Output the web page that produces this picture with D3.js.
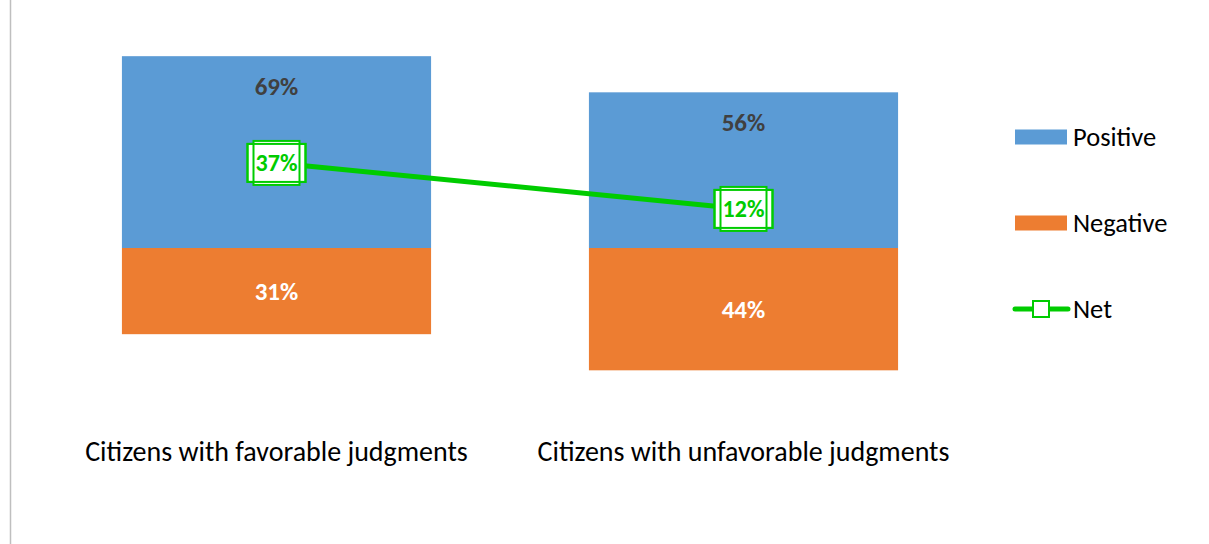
<!DOCTYPE html>
<html><head><meta charset="utf-8">
<script src="https://cdn.jsdelivr.net/npm/d3@7"></script>
<style>body{margin:0;background:#fff}svg{display:block}</style>
</head><body>
<svg id="c" width="1209" height="544"></svg>
<script>
const categories = ["Citizens with favorable judgments", "Citizens with unfavorable judgments"];
const positive = [69, 56];
const negative = [31, 44];
const net = [37, 12];
const seriesNames = ["Positive", "Negative", "Net"];

const svg = d3.select("#c");
const font = "Calibri, Carlito, 'Open Sans', 'Liberation Sans', sans-serif";
const blue = "#5b9bd5", orange = "#ed7d31", green = "#00cc00";

svg.append("line").attr("x1",10.5).attr("x2",10.5).attr("y1",0).attr("y2",544)
  .attr("stroke","#bfbfbf").attr("stroke-width",1.5);

const x = d3.scaleBand().domain(categories).range([43, 977]).paddingInner(0.338).paddingOuter(0.169);
const y = d3.scaleLinear().domain([-60, 80]).range([248 + 60*2.78, 248 - 80*2.78]);
const yNet = d3.scaleLinear().domain([-100, 100]).range([231 + 184, 231 - 184]);

const g = svg.append("g");
g.selectAll("rect.pos").data(categories).join("rect").attr("class","pos")
  .attr("x", d => x(d)).attr("width", x.bandwidth())
  .attr("y", (d,i) => y(positive[i])).attr("height", (d,i) => y(0) - y(positive[i]))
  .attr("fill", blue);
g.selectAll("rect.neg").data(categories).join("rect").attr("class","neg")
  .attr("x", d => x(d)).attr("width", x.bandwidth())
  .attr("y", y(0)).attr("height", (d,i) => y(-negative[i]) - y(0))
  .attr("fill", orange);

g.selectAll("text.pl").data(categories).join("text").attr("class","pl")
  .attr("x", d => x(d) + x.bandwidth()/2).attr("y", (d,i) => y(positive[i]) + 30)
  .attr("dy","0.35em").attr("text-anchor","middle").attr("font-family",font)
  .attr("font-weight","bold").attr("font-size",25).attr("fill","#404040")
  .text((d,i) => positive[i] + "%");
g.selectAll("text.nl").data(categories).join("text").attr("class","nl")
  .attr("x", d => x(d) + x.bandwidth()/2).attr("y", (d,i) => (y(0) + y(-negative[i]))/2)
  .attr("dy","0.35em").attr("text-anchor","middle").attr("font-family",font)
  .attr("font-weight","bold").attr("font-size",25).attr("fill","#fff")
  .text((d,i) => negative[i] + "%");

const line = d3.line().x((d,i) => x(categories[i]) + x.bandwidth()/2).y(d => yNet(d));
g.append("path").datum(net).attr("d", line).attr("fill","none")
  .attr("stroke", green).attr("stroke-width", 5);

const pts = g.selectAll("g.pt").data(net).join("g").attr("class","pt")
  .attr("transform", (d,i) => `translate(${x(categories[i]) + x.bandwidth()/2},${yNet(d)})`);
pts.append("rect").attr("x",-29).attr("y",-19).attr("width",58).attr("height",38)
  .attr("fill","#fff").attr("stroke",green).attr("stroke-width",2);
pts.append("rect").attr("x",-23).attr("y",-22).attr("width",46).attr("height",44)
  .attr("fill","#fff").attr("stroke",green).attr("stroke-width",2);
pts.append("rect").attr("x",-29).attr("y",-19).attr("width",58).attr("height",38)
  .attr("fill","none").attr("stroke",green).attr("stroke-width",2);
pts.append("text").attr("text-anchor","middle").attr("dy","0.35em")
  .attr("font-family",font).attr("font-weight","bold").attr("font-size",24)
  .attr("fill", green).text(d => d + "%");

const xAxis = svg.append("g").attr("transform","translate(0,451)")
  .call(d3.axisBottom(x).tickSize(0).tickPadding(0));
xAxis.select(".domain").remove();
xAxis.selectAll("text").attr("font-family",font).attr("font-size",28).attr("fill","#000")
  .attr("dy","0.35em");

const leg = svg.append("g");
const ly = [137, 223, 309];
leg.append("rect").attr("x",1015).attr("y",ly[0]-7.5).attr("width",52).attr("height",15).attr("fill",blue);
leg.append("rect").attr("x",1015).attr("y",ly[1]-7.5).attr("width",52).attr("height",15).attr("fill",orange);
leg.append("line").attr("x1",1015).attr("x2",1068).attr("y1",ly[2]).attr("y2",ly[2])
  .attr("stroke",green).attr("stroke-width",5).attr("stroke-linecap","round");
leg.append("rect").attr("x",1033).attr("y",ly[2]-8).attr("width",16).attr("height",16)
  .attr("fill","#fff").attr("stroke",green).attr("stroke-width",2);
leg.selectAll("text").data(seriesNames).join("text")
  .attr("x",1073).attr("y",(d,i) => ly[i]).attr("dy","0.35em")
  .attr("font-family",font).attr("font-size",26.5).attr("fill","#000").text(d => d);
</script>
</body></html>
